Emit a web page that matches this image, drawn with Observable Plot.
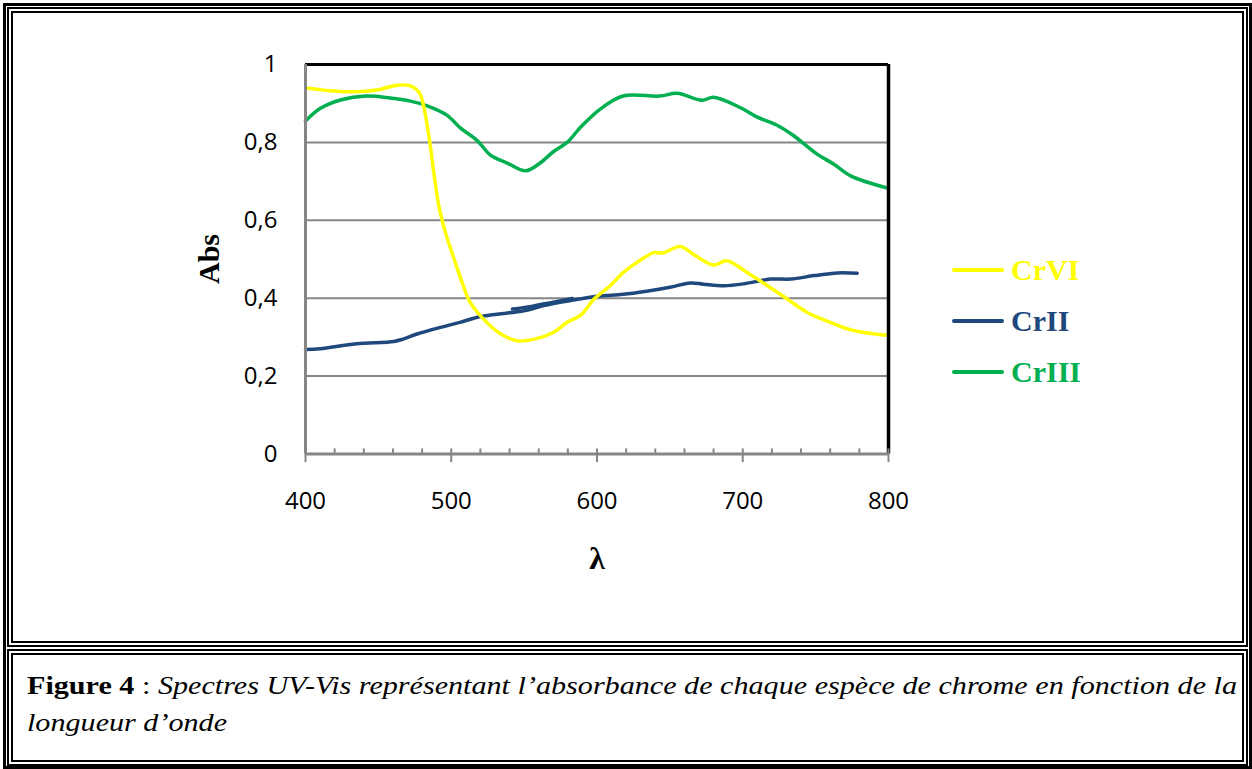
<!DOCTYPE html>
<html>
<head>
<meta charset="utf-8">
<script src="https://cdn.jsdelivr.net/npm/d3@7"></script>
<script src="https://cdn.jsdelivr.net/npm/@observablehq/plot@0.6"></script>
<style>
html,body{margin:0;padding:0;background:#fff;}
#page{position:relative;width:1252px;height:769px;overflow:hidden;background:#fff;}
.box{position:absolute;box-sizing:border-box;}
#outer{left:3px;top:3px;width:1249px;height:766px;border:3px solid #000;}
#chartbox{left:7px;top:7px;width:1241px;height:640px;border:6px double #000;}
#capbox{left:7px;top:649px;width:1241px;height:117px;border:6px double #000;overflow:hidden;}
#cap{position:absolute;left:14px;top:12px;font-family:"Liberation Serif","Times New Roman",serif;font-size:25px;line-height:37px;color:#000;white-space:nowrap;transform-origin:0 0;}
#cap .l1{display:inline-block;}
#chart{position:absolute;left:0;top:0;}
.lab{position:absolute;font-family:"Liberation Serif","Times New Roman",serif;line-height:1;white-space:nowrap;}
.legline{position:absolute;height:4px;border-radius:2px;}
</style>
</head>
<body>
<div id="page">
  <div class="box" id="outer"></div>
  <div class="box" id="chartbox"></div>
  <div class="box" id="capbox">
    <div id="cap">
      <span class="l1" id="capl1"><b>Figure 4</b> : <i>Spectres UV-Vis représentant l’absorbance de chaque espèce de chrome en fonction de la</i></span><br>
      <span><i>longueur d’onde</i></span>
    </div>
  </div>
  <div id="chart"></div>
  <div class="lab" id="ylab" style="left:209px;top:259px;font-size:30px;font-weight:bold;transform:translate(-50%,-50%) rotate(-90deg);">Abs</div>
  <div class="lab" id="xlab" style="left:597px;top:558px;font-size:32px;font-weight:bold;transform:translate(-50%,-50%);">λ</div>
  <div id="legend"></div>
</div>
<script>
// ---- data ----
const seriesNames = ["CrVI", "CrII", "CrIII"];
const seriesColors = ["#FFFF00", "#1F497D", "#00B050"];

const crviWl  = [400,419,435,451,463,472,478,481,485,488,491.5,496,502,507.5,513,522,534,545,557,570,579.5,589,598,609,618,627.5,639,645,657,666,680,689,703,717,730.5,744,760,776,800];
const crviAbs = [0.940,0.932,0.930,0.936,0.947,0.945,0.928,0.894,0.808,0.723,0.637,0.569,0.500,0.440,0.389,0.347,0.308,0.291,0.295,0.312,0.338,0.357,0.398,0.432,0.466,0.492,0.517,0.516,0.533,0.513,0.485,0.496,0.466,0.432,0.398,0.364,0.338,0.317,0.304];

const criiWl  = [400,410,435,460.6,467,476.6,492.6,506,518,531.5,550,563.5,582,600,618,634,650,664,673,687,701,719,733,749,765,778.5];
const criiAbs = [0.268,0.270,0.283,0.289,0.295,0.308,0.325,0.338,0.351,0.359,0.368,0.381,0.394,0.405,0.410,0.418,0.428,0.439,0.436,0.432,0.437,0.449,0.449,0.458,0.465,0.464];
// short overlapping CrII segment visible around 540-585 nm
const criiSegWl  = [542,555,570,583];
const criiSegAbs = [0.372,0.379,0.390,0.399];

const criiiWl  = [400,410,424,442,458,472,483.5,497,506,518,527,538.4,551,561,570,579.5,589,602,618,643,655,672,680,698.5,710,723.6,735,751,762.5,774,800];
const criiiAbs = [0.855,0.887,0.909,0.919,0.914,0.906,0.894,0.870,0.838,0.804,0.767,0.747,0.727,0.747,0.776,0.800,0.840,0.885,0.919,0.919,0.926,0.908,0.916,0.889,0.865,0.844,0.817,0.770,0.744,0.714,0.682];

const xTicks = [400,500,600,700,800];
const xMinorTicks = [420,440,460,480,520,540,560,580,620,640,660,680,720,740,760,780];
const yTicks = [0,0.2,0.4,0.6,0.8,1];
const yTickLabels = ["0","0,2","0,4","0,6","0,8","1"];
const yGrid = [0.2,0.4,0.6,0.8];

// ---- build ----
const toRows = (wl, ab) => wl.map((w,i)=>({wl:w, abs:ab[i]}));
const crvi = toRows(crviWl, crviAbs);
const crii = toRows(criiWl, criiAbs);
const criiSeg = toRows(criiSegWl, criiSegAbs);
const criii = toRows(criiiWl, criiiAbs);

const axisGray = "#868686";
const lineOpts = (c) => ({x:"wl", y:"abs", stroke:c, strokeWidth:3.5, curve:"catmull-rom", strokeLinecap:"round", strokeLinejoin:"round"});

const svg = Plot.plot({
  width: 1252, height: 600,
  marginLeft: 305, marginRight: 364, marginTop: 64, marginBottom: 146.5,
  x: {domain:[400,800]},
  y: {domain:[0,1]},
  style: {background:"transparent", fontFamily:"'Open Sans', sans-serif", fontSize:"24px", color:"#000", overflow:"visible"},
  marks: [
    Plot.ruleY(yGrid, {stroke:axisGray, strokeWidth:2}),
    Plot.line(criii, lineOpts(seriesColors[2])),
    Plot.line(crii, lineOpts(seriesColors[1])),
    Plot.line(criiSeg, lineOpts(seriesColors[1])),
    Plot.line(crvi, lineOpts(seriesColors[0])),
    Plot.ruleY([1], {stroke:"#000", strokeWidth:3}),
    Plot.ruleX([800], {y1:0, y2:1, stroke:"#000", strokeWidth:3.5}),
    Plot.ruleX(xMinorTicks, {y1:0, y2:0.013, stroke:axisGray, strokeWidth:2}),
    Plot.ruleX(xTicks, {y1:-0.022, y2:0.013, stroke:axisGray, strokeWidth:2}),
    Plot.ruleX([400], {y1:0, y2:1, stroke:axisGray, strokeWidth:3}),
    Plot.ruleY([0], {stroke:axisGray, strokeWidth:3}),
    Plot.axisX(xTicks, {tickSize:0, tickPadding:38, label:null, fontSize:24, tickFormat:d=>String(d)}),
    Plot.axisY(yTicks, {tickSize:0, tickPadding:28, label:null, fontSize:24, tickFormat:(d)=>yTickLabels[yTicks.indexOf(d)]})
  ]
});
document.getElementById("chart").appendChild(svg);

// ---- legend ----
const legY = [270, 321, 372];
const leg = document.getElementById("legend");
seriesNames.forEach((name,i)=>{
  const ln = document.createElement("div");
  ln.className = "legline";
  ln.style.left = "952px"; ln.style.width = "52px";
  ln.style.top = (legY[i]-2) + "px";
  ln.style.background = seriesColors[i];
  leg.appendChild(ln);
  const t = document.createElement("div");
  t.className = "lab";
  t.style.left = "1011px";
  t.style.top = (legY[i]-15.5) + "px";
  t.style.fontSize = "30px";
  t.style.fontWeight = "bold";
  t.style.color = seriesColors[i];
  t.textContent = name;
  leg.appendChild(t);
});

// ---- caption: stretch horizontally so the first line spans the box like the reference ----
const cap = document.getElementById("cap");
const w1 = document.getElementById("capl1").getBoundingClientRect().width;
const sx = 1210 / w1;
cap.style.transform = "scaleX(" + sx + ")";
</script>
</body>
</html>
